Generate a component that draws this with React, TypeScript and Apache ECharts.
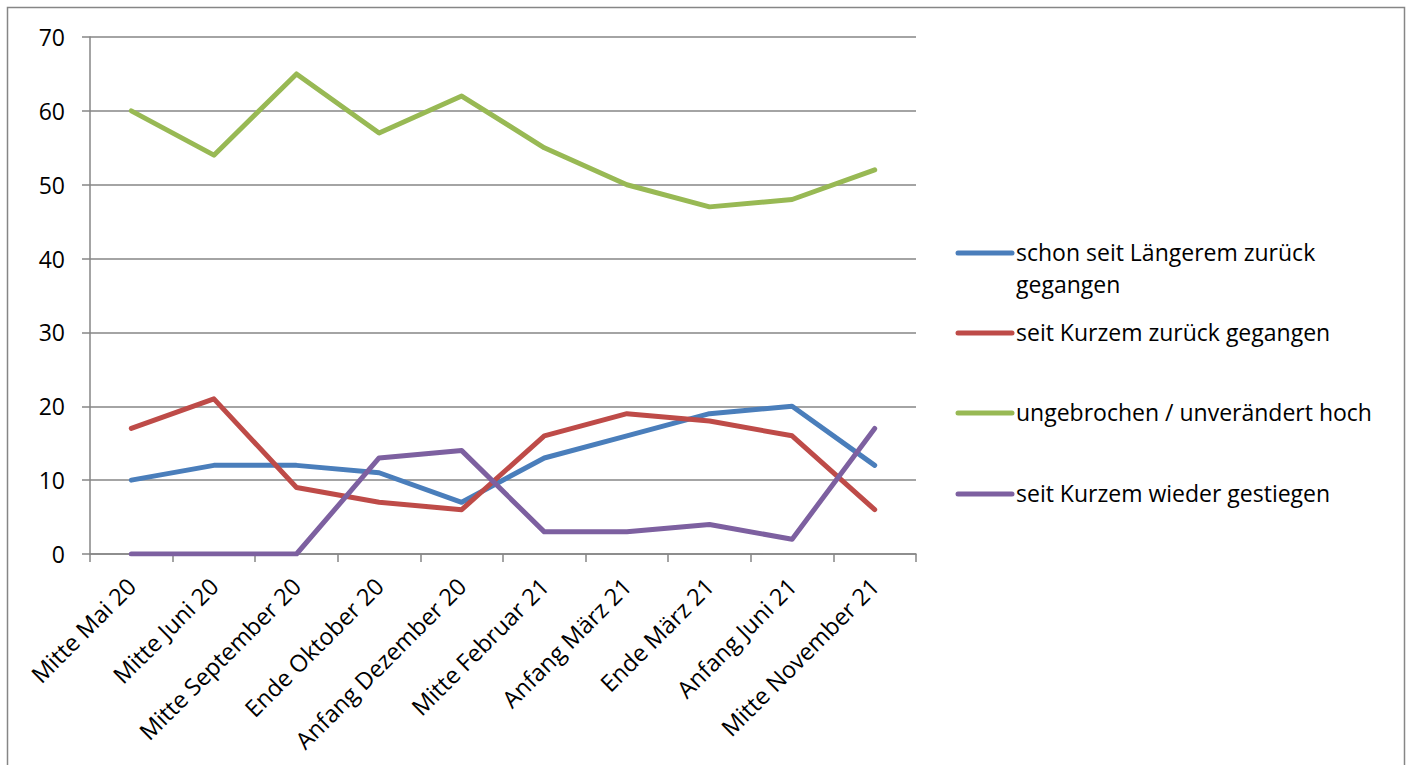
import React, { useEffect, useRef } from "react";
import * as echarts from "echarts";

const categories = [
  "Mitte Mai 20",
  "Mitte Juni 20",
  "Mitte September 20",
  "Ende Oktober 20",
  "Anfang Dezember 20",
  "Mitte Februar 21",
  "Anfang März 21",
  "Ende März 21",
  "Anfang Juni 21",
  "Mitte November 21",
];

const seriesNames = [
  "schon seit Längerem zurück gegangen",
  "seit Kurzem zurück gegangen",
  "ungebrochen / unverändert hoch",
  "seit Kurzem wieder gestiegen",
];

const legendLabels = [
  "schon seit Längerem zurück\ngegangen",
  "seit Kurzem zurück gegangen",
  "ungebrochen / unverändert hoch",
  "seit Kurzem wieder gestiegen",
];

const blueValues = [10, 12, 12, 11, 7, 13, 16, 19, 20, 12];
const redValues = [17, 21, 9, 7, 6, 16, 19, 18, 16, 6];
const greenValues = [60, 54, 65, 57, 62, 55, 50, 47, 48, 52];
const purpleValues = [0, 0, 0, 13, 14, 3, 3, 4, 2, 17];

const colors = ["#4a7ebb", "#be4b48", "#98b954", "#7d60a0"];
const FONT = "'Open Sans'";

export default function App() {
  const ref = useRef<HTMLDivElement>(null);
  useEffect(() => {
    if (!ref.current) return;
    const chart = echarts.init(ref.current, null, { renderer: "svg" });
    const values = [blueValues, redValues, greenValues, purpleValues];
    const legendY = [253, 333, 413, 494];
    const legendGraphics: any[] = [];
    legendLabels.forEach((label, i) => {
      legendGraphics.push({
        type: "line",
        shape: { x1: 958, y1: legendY[i], x2: 1012, y2: legendY[i] },
        style: { stroke: colors[i], lineWidth: 5, lineCap: "round" },
      });
      legendGraphics.push({
        type: "text",
        x: 1016,
        y: legendY[i] - 17,
        style: {
          text: label,
          font: `23px ${FONT}`,
          fill: "#000",
          lineHeight: 32,
          textVerticalAlign: "top",
        },
      });
    });
    chart.setOption({
      animation: false,
      textStyle: { fontFamily: FONT },
      grid: { left: 90, top: 37, right: 493, bottom: 211, containLabel: false },
      xAxis: {
        type: "category",
        data: categories,
        boundaryGap: true,
        axisLine: { lineStyle: { color: "#868686", width: 1.5 } },
        axisTick: { show: true, length: 8, lineStyle: { color: "#868686", width: 1.5 } },
        axisLabel: { rotate: 45, fontSize: 23.5, color: "#000", margin: 28, fontFamily: FONT, interval: 0 },
        splitLine: { show: false },
      },
      yAxis: {
        type: "value",
        min: 0,
        max: 70,
        interval: 10,
        axisLine: { show: true, lineStyle: { color: "#868686", width: 1.5 } },
        axisTick: { show: true, length: 8, lineStyle: { color: "#868686", width: 1.5 } },
        axisLabel: { fontSize: 23, color: "#000", margin: 25, fontFamily: FONT },
        splitLine: { show: true, lineStyle: { color: "#868686", width: 1.5 } },
      },
      series: seriesNames.map((name, i) => ({
        name,
        type: "line",
        data: values[i],
        symbol: "none",
        lineStyle: { color: colors[i], width: 5, join: "round", cap: "round" },
        itemStyle: { color: colors[i] },
      })),
      graphic: [
        {
          type: "rect",
          shape: { x: 7.5, y: 7.5, width: 1397, height: 770 },
          style: { fill: "none", stroke: "#868686", lineWidth: 1.5 },
          silent: true,
        },
        ...legendGraphics,
      ],
    });
    return () => chart.dispose();
  }, []);
  return (
    <div
      ref={ref}
      style={{ position: "absolute", left: 0, top: 0, width: 1409, height: 765, background: "#fff" }}
    />
  );
}
